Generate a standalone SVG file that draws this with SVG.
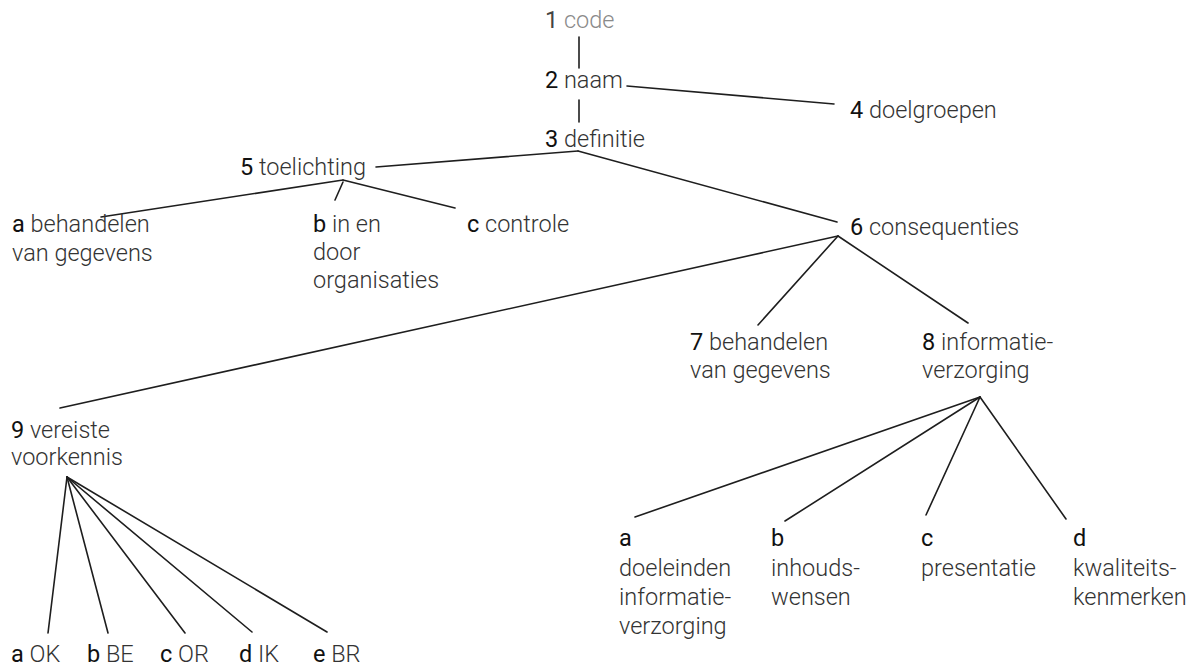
<svg xmlns="http://www.w3.org/2000/svg" width="1193" height="666" viewBox="0 0 1193 666">
<style>
text{font-family:Roboto,"Liberation Sans",Arial,sans-serif;font-size:23.5px;font-weight:300;fill:#333}
.n{fill:#111;font-weight:400}
.faint{fill:#8a8a8a}
.faintn{fill:#444;font-weight:400}
#connectors line{stroke:#1e1e1e;stroke-width:1.6;stroke-linecap:round}
</style>
<rect width="1193" height="666" fill="#fff"/>
<g id="connectors">
<line x1="579" y1="37" x2="579" y2="68"/>
<line x1="579" y1="100" x2="579" y2="122"/>
<line x1="627" y1="86" x2="834" y2="104"/>
<line x1="578" y1="151" x2="376" y2="167"/>
<line x1="578" y1="151" x2="837" y2="222"/>
<line x1="343" y1="180" x2="101" y2="217"/>
<line x1="343" y1="182" x2="335" y2="200"/>
<line x1="343" y1="180" x2="455" y2="208"/>
<line x1="838" y1="236" x2="60" y2="408"/>
<line x1="838" y1="236" x2="758" y2="325"/>
<line x1="838" y1="236" x2="968" y2="323"/>
<line x1="980" y1="397" x2="635" y2="517"/>
<line x1="980" y1="397" x2="785" y2="521"/>
<line x1="980" y1="397" x2="926" y2="515"/>
<line x1="980" y1="397" x2="1066" y2="519"/>
<line x1="67" y1="477" x2="48" y2="633"/>
<line x1="67" y1="477" x2="108" y2="633"/>
<line x1="67" y1="477" x2="185" y2="633"/>
<line x1="67" y1="477" x2="252" y2="632"/>
<line x1="67" y1="477" x2="327" y2="632"/>
</g>
<g id="n1"><text x="545" y="28"><tspan class="faintn">1</tspan><tspan class="faint"> code</tspan></text></g>
<g id="n2"><text x="545" y="88"><tspan class="n">2</tspan> naam</text></g>
<g id="n3"><text x="545" y="147"><tspan class="n">3</tspan> definitie</text></g>
<g id="n4"><text x="850" y="118"><tspan class="n">4</tspan> doelgroepen</text></g>
<g id="n5"><text x="240" y="175"><tspan class="n">5</tspan> toelichting</text></g>
<g id="n5a"><text x="12" y="232"><tspan class="n">a</tspan> behandelen</text><text x="12" y="261">van gegevens</text></g>
<g id="n5b"><text x="313" y="232"><tspan class="n">b</tspan> in en</text><text x="313" y="260">door</text><text x="313" y="288">organisaties</text></g>
<g id="n5c"><text x="467" y="232"><tspan class="n">c</tspan> controle</text></g>
<g id="n6"><text x="850" y="235"><tspan class="n">6</tspan> consequenties</text></g>
<g id="n7"><text x="690" y="350"><tspan class="n">7</tspan> behandelen</text><text x="690" y="378">van gegevens</text></g>
<g id="n8"><text x="922" y="350"><tspan class="n">8</tspan> informatie-</text><text x="922" y="378">verzorging</text></g>
<g id="n9"><text x="11" y="438"><tspan class="n">9</tspan> vereiste</text><text x="11" y="465">voorkennis</text></g>
<g id="n9a"><text x="11" y="662"><tspan class="n">a</tspan> OK</text></g>
<g id="n9b"><text x="87" y="662"><tspan class="n">b</tspan> BE</text></g>
<g id="n9c"><text x="160" y="662"><tspan class="n">c</tspan> OR</text></g>
<g id="n9d"><text x="239" y="662"><tspan class="n">d</tspan> IK</text></g>
<g id="n9e"><text x="313" y="662"><tspan class="n">e</tspan> BR</text></g>
<g id="n8a"><text x="619" y="546" class="n">a</text><text x="619" y="576">doeleinden</text><text x="619" y="605">informatie-</text><text x="619" y="634">verzorging</text></g>
<g id="n8b"><text x="771" y="546" class="n">b</text><text x="771" y="576">inhouds-</text><text x="771" y="605">wensen</text></g>
<g id="n8c"><text x="921" y="546" class="n">c</text><text x="921" y="576">presentatie</text></g>
<g id="n8d"><text x="1073" y="546" class="n">d</text><text x="1073" y="576">kwaliteits-</text><text x="1073" y="605">kenmerken</text></g>
</svg>
